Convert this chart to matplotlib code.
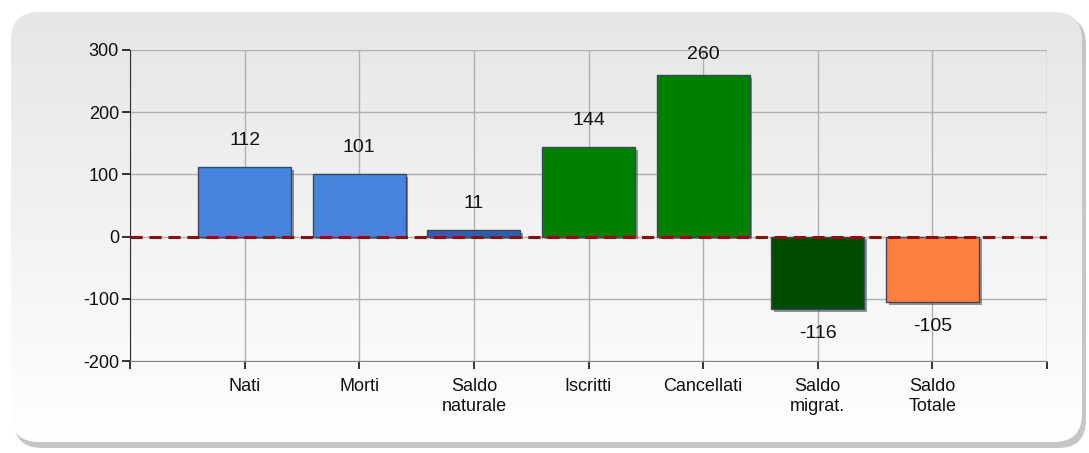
import matplotlib
matplotlib.use("Agg")
import matplotlib.pyplot as plt
import numpy as np
from matplotlib.patches import FancyBboxPatch
import matplotlib.patheffects as pe

categories = ["Nati", "Morti", "Saldo\nnaturale", "Iscritti", "Cancellati", "Saldo\nmigrat.", "Saldo\nTotale"]
values = [112, 101, 11, 144, 260, -116, -105]
colors = ["#4684e0", "#4684e0", "#2c5fb4", "#008000", "#008000", "#004d00", "#ff7f40"]

plt.rcParams['font.family'] = ['Liberation Sans', 'DejaVu Sans']
plt.rcParams['axes.unicode_minus'] = False

W, H = 1089, 453
fig = plt.figure(figsize=(W / 100, H / 100), dpi=100)
fig.patch.set_facecolor("white")

# background panel
bg = fig.add_axes([0, 0, 1, 1])
bg.set_xlim(0, W)
bg.set_ylim(H, 0)
bg.axis("off")
shadow = FancyBboxPatch((14, 16), 1072, 432, boxstyle="round,pad=0,rounding_size=28",
                        facecolor="#b8b8b8", edgecolor="none", alpha=0.8)
bg.add_patch(shadow)
panel = FancyBboxPatch((11, 12), 1071, 430, boxstyle="round,pad=0,rounding_size=28",
                       facecolor="none", edgecolor="none")
bg.add_patch(panel)
grad = np.linspace(0, 1, 256).reshape(-1, 1)
cmap = matplotlib.colors.LinearSegmentedColormap.from_list("g", ["#e6e6e6", "#ffffff"])
im = bg.imshow(grad, extent=(11, 1082, 442, 12), cmap=cmap, aspect="auto", zorder=1)
im.set_clip_path(panel)
bg.set_xlim(0, W)
bg.set_ylim(H, 0)

ax = fig.add_axes([130 / W, 1 - 361 / H, (1047 - 130) / W, (361 - 50) / H])
ax.set_facecolor("none")
x = np.arange(1, len(categories) + 1)
bars = ax.bar(x, values, width=0.81, color=colors, edgecolor="#3a4a5a", linewidth=1, zorder=3)
for b in bars:
    b.set_path_effects([pe.SimplePatchShadow(offset=(2, -2), shadow_rgbFace="#333333", alpha=0.5), pe.Normal()])

ax.axhline(0, color="#8b1010", linestyle=(0, (4, 2.2)), linewidth=2.2, zorder=4)

for xi, v in zip(x, values):
    if v >= 0:
        ty = min(v + 43, 292)
    else:
        ty = v - 40
    ax.text(xi, ty, str(v), ha="center", va="center", fontsize=14, color="#111111", zorder=5)

ax.set_xlim(0, 8)
ax.set_ylim(-200, 300)
ax.set_yticks([-200, -100, 0, 100, 200, 300])
ax.set_xticks(np.arange(0, 9))
ax.set_xticklabels([""] + categories + [""])
ax.tick_params(axis="both", labelsize=13, colors="#111111", length=6, width=1.2, direction="out")
ax.tick_params(axis="x", pad=6)
ax.tick_params(axis="y", pad=2)
ax.grid(True, color="#b0b0b0", linewidth=1, zorder=0)
for s in ["top", "right"]:
    ax.spines[s].set_visible(False)
ax.spines["left"].set_color("#333333")
ax.spines["bottom"].set_color("#888888")
for lbl in ax.get_xticklabels():
    lbl.set_linespacing(1.25)

fig.savefig("out.png", dpi=100)
